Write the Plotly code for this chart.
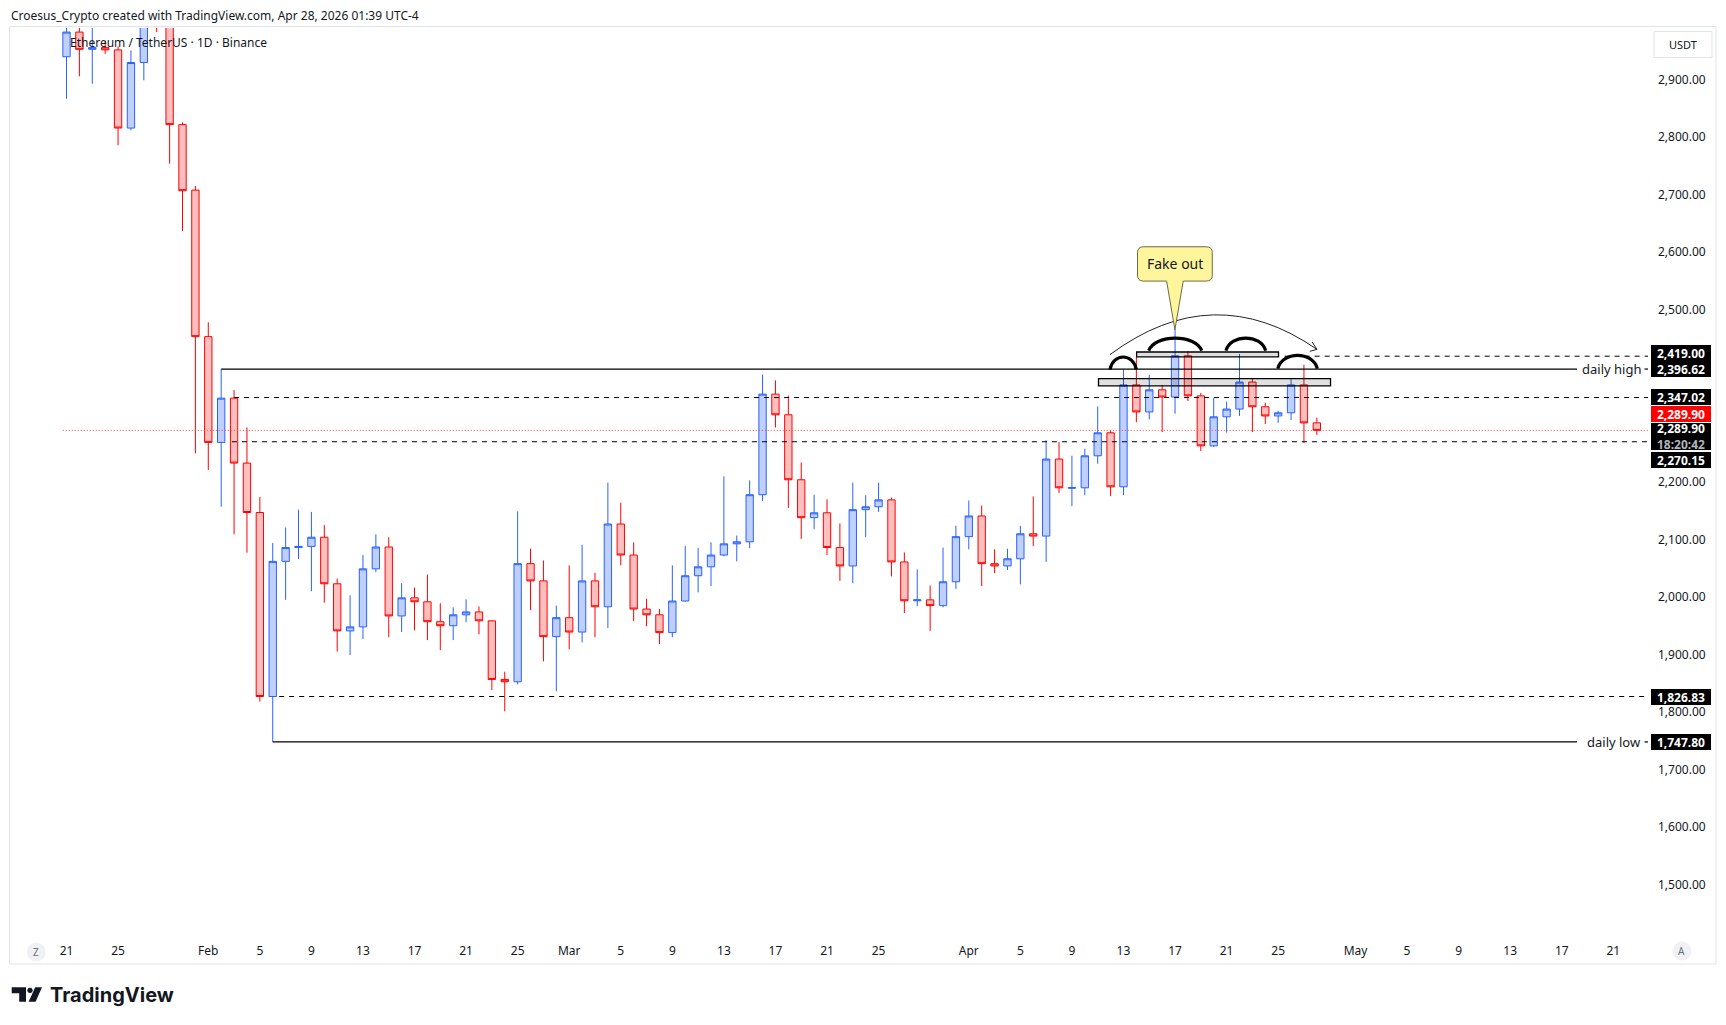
import plotly.graph_objects as go
import pandas as pd

# ---------------- data (ETH/USDT 1D, Binance) ----------------
dates = pd.date_range("2026-01-21", "2026-04-28", freq="D")

opens = [2940, 2983, 2953, 2956, 2952, 2816, 2930, 3010, 3005, 2822,
         2708, 2453, 2269, 2346, 2233, 2147, 1826.83, 2062, 2086, 2088,
         2104, 2023, 1941, 1948, 2049, 2087, 1967, 1998.5, 1991.6, 1957,
         1950, 1969, 1974, 1958.5, 1856.5, 1852.5, 2058, 2028, 1931, 1964,
         1939, 2028, 1983, 2127, 2073, 1979, 1969, 1938, 1993, 2037,
         2052.5, 2073, 2092.5, 2096, 2178, 2353, 2317, 2204, 2138, 2146.5,
         2086, 2054, 2152, 2157, 2169, 2061, 1993.4, 1995, 1985, 2026.5,
         2105, 2141, 2058, 2054, 2066.5, 2110, 2106, 2240, 2189, 2190,
         2245.7, 2285.7, 2191.7, 2369, 2322, 2360.5, 2348, 2419.6, 2350, 2263,
         2313.5, 2327, 2374, 2331, 2315, 2320.5, 2369, 2303]
highs = [3010, 2998, 2995, 2968, 2958, 2951, 3040, 3050, 3015, 2826,
         2715, 2478, 2396.62, 2360, 2295, 2174, 2094, 2121, 2152, 2148,
         2125, 2032, 2003, 2073, 2109, 2104, 2024, 2016.5, 2039, 1989,
         1982, 1996, 1983.5, 1959, 1870, 2149, 2084, 2063.5, 1985, 2055,
         2091, 2042, 2199, 2164, 2095, 1997, 1979, 2055, 2089, 2085.5,
         2095, 2210, 2107, 2203, 2387, 2377, 2350.5, 2234, 2178, 2170,
         2128, 2199, 2177, 2199, 2173, 2077.5, 2048, 2020, 2086, 2124,
         2168, 2159, 2083, 2084, 2124, 2175, 2273, 2270, 2246, 2258,
         2331.5, 2290, 2396, 2418, 2386.5, 2369, 2466.6, 2428, 2355, 2346.5,
         2340, 2423, 2381, 2338, 2324, 2380, 2404, 2312]
lows = [2867, 2906, 2893, 2945, 2786, 2812, 2899, 2983, 2754, 2637,
        2250, 2221, 2157, 2109, 2077, 1818, 1747.80, 1995, 2066, 2010,
        1990, 1905, 1899, 1927, 2043, 1930, 1939, 1942, 1925, 1907.5,
        1925, 1956, 1935, 1838, 1801, 1848, 1977, 1888, 1836, 1909,
        1921, 1930, 1946, 2055, 1958, 1949, 1918, 1930, 1992, 2008,
        2019, 2071, 2062, 2085, 2167, 2295, 2155, 2101, 2118, 2073,
        2028, 2024, 2104, 2148, 2036, 1972, 1984, 1941, 1982, 2014,
        2083, 2019, 2041.5, 2047, 2022, 2088.5, 2061, 2181, 2158, 2177,
        2232, 2175.5, 2177, 2304, 2309, 2287, 2319, 2341, 2254, 2261,
        2286, 2315, 2287, 2301, 2303, 2308, 2268, 2282]
closes = [2983, 2953, 2956, 2952, 2816, 2930, 3010, 3005, 2822, 2707,
          2453, 2269, 2346, 2233, 2147, 1826.83, 2062, 2086, 2088, 2104,
          2023, 1941, 1948, 2049, 2087, 1967, 1998.5, 1991.6, 1957, 1950,
          1969, 1974, 1958.5, 1856.5, 1852.5, 2058, 2028, 1931, 1964, 1939,
          2028, 1983, 2127, 2073, 1979, 1969, 1938, 1993, 2037, 2052.5,
          2073, 2092.5, 2096, 2178, 2353, 2317, 2204, 2138, 2146.5, 2086,
          2054, 2152, 2157, 2169, 2061, 1993.4, 1995, 1985, 2026.5, 2105,
          2141, 2058, 2054, 2066.5, 2110, 2106, 2240, 2190, 2190.5, 2245.7,
          2285.7, 2191.7, 2369, 2322, 2360.5, 2348, 2419.6, 2350, 2263, 2313.5,
          2327, 2374, 2331, 2315, 2320.5, 2369, 2303, 2289.9]

y_tick_values = [1500, 1600, 1700, 1800, 1900, 2000, 2100, 2200,
                 2500, 2600, 2700, 2800, 2900]
x_tick_dates = ["2026-01-21", "2026-01-25", "2026-02-01", "2026-02-05", "2026-02-09",
                "2026-02-13", "2026-02-17", "2026-02-21", "2026-02-25", "2026-03-01",
                "2026-03-05", "2026-03-09", "2026-03-13", "2026-03-17", "2026-03-21",
                "2026-03-25", "2026-04-01", "2026-04-05", "2026-04-09", "2026-04-13",
                "2026-04-17", "2026-04-21", "2026-04-25", "2026-05-01", "2026-05-05",
                "2026-05-09", "2026-05-13", "2026-05-17", "2026-05-21"]
x_tick_labels = ["21", "25", "Feb", "5", "9", "13", "17", "21", "25", "Mar",
                 "5", "9", "13", "17", "21", "25", "Apr", "5", "9", "13",
                 "17", "21", "25", "May", "5", "9", "13", "17", "21"]

# drawn levels
daily_high_start, daily_high = "2026-02-02", 2396.62
daily_low_start, daily_low = "2026-02-06", 1747.80
dashed_levels = [("2026-04-25 12:00", 2419.00), ("2026-02-03 00:00", 2347.02),
                 ("2026-02-02 20:00", 2270.15), ("2026-02-06 12:00", 1826.83)]
last_price = 2289.90
last_price_start = "2026-01-20 17:00"
countdown = "18:20:42"

# annotation drawings (date, price)
domes = [("2026-04-11 22:50", "2026-04-14 00:00", 2395.7, 2417.6),
         ("2026-04-14 23:00", "2026-04-19 01:40", 2428.7, 2450.6),
         ("2026-04-20 22:50", "2026-04-24 00:45", 2428.7, 2450.6),
         ("2026-04-24 23:15", "2026-04-28 01:00", 2397.4, 2420.5)]
zones = [("2026-04-14 00:30", "2026-04-25 00:40", 2417.9, 2426.3),
         ("2026-04-11 01:30", "2026-04-29 01:30", 2367.5, 2380.0)]
arrow_arc = [("2026-04-11 22:50", 2421.7), ("2026-04-19 23:30", 2555.5), ("2026-04-28 00:15", 2430.9)]
arrow_wings = [("2026-04-27 15:10", 2443.6), ("2026-04-27 11:00", 2427.5)]
callout_box = ("2026-04-14 02:10", "2026-04-19 21:20", 2549.7, 2609.4)
callout_tip = ("2026-04-16 23:45", 2465.2)
callout_text = "Fake out"

# ---------------- geometry of the screenshot ----------------
W, H = 1726, 1025
PL, PR, PT, PB = 10, 1648, 27.5, 938
DAY0 = pd.Timestamp("2026-01-21")
PX_DAY0, PX_PER_DAY = 66.5, 12.89
PY_REF, PRICE_REF, PX_PER_PRICE = 79.3, 2900.0, 0.575


def px2date(px):
    return DAY0 + pd.Timedelta(days=(px - PX_DAY0) / PX_PER_DAY)


def py2price(py):
    return PRICE_REF - (py - PY_REF) / PX_PER_PRICE


def pxx(px):
    return (px - PL) / (PR - PL)


def pxy(py):
    return (PB - py) / (PB - PT)


def pt(d, p):
    return f"{pd.Timestamp(d).strftime('%Y-%m-%d_%H:%M:%S')},{p:.3f}"


x_range = [px2date(PL), px2date(PR)]
y_range = [py2price(PB), py2price(PT)]
x_end = x_range[1]

FONT = "Noto Sans"
TXT = "#131722"

fig = go.Figure()
fig.add_trace(go.Candlestick(
    x=dates, open=opens, high=highs, low=lows, close=closes,
    increasing=dict(line=dict(color="#2962FF", width=1), fillcolor="#BFCFFF"),
    decreasing=dict(line=dict(color="#FF0000", width=1), fillcolor="#FFBFBF"),
    whiskerwidth=0, hoverinfo="skip", showlegend=False))

shapes = []
# last price dotted line
shapes.append(dict(type="line", xref="x", yref="y", x0=last_price_start, x1=x_end,
                   y0=last_price, y1=last_price, line=dict(color="#FF4040", width=1, dash="1px,2px")))
# dashed levels
for start, lv in dashed_levels:
    shapes.append(dict(type="line", xref="x", yref="y", x0=start, x1=x_end, y0=lv, y1=lv,
                       line=dict(color="#000000", width=1, dash="5px,5px")))
# daily high / low lines (broken by the text label)
for start, lv in [(daily_high_start, daily_high), (daily_low_start, daily_low)]:
    shapes.append(dict(type="line", xref="x", yref="y", x0=start, x1=px2date(1577), y0=lv, y1=lv,
                       line=dict(color="#000000", width=1.2)))
    shapes.append(dict(type="line", xref="x", yref="y", x0=px2date(1644.5), x1=x_end, y0=lv, y1=lv,
                       line=dict(color="#000000", width=1.2)))
# zones
for a, b, y0, y1 in zones:
    shapes.append(dict(type="rect", xref="x", yref="y", x0=a, x1=b, y0=y0, y1=y1,
                       fillcolor="rgba(0,0,0,0.12)", line=dict(color="#000000", width=1.3)))
# domes
for a, b, base, top in domes:
    ta, tb = pd.Timestamp(a), pd.Timestamp(b)
    w = tb - ta
    ctrl = base + (top - base) / 0.75
    path = f"M{pt(ta, base)} C{pt(ta + 0.12 * w, ctrl)} {pt(tb - 0.12 * w, ctrl)} {pt(tb, base)}"
    shapes.append(dict(type="path", xref="x", yref="y", path=path,
                       line=dict(color="#000000", width=3.2)))
# big arrow arc
(s0, p0), (s1, p1), (s2, p2) = arrow_arc
shapes.append(dict(type="path", xref="x", yref="y",
                   path=f"M{pt(s0, p0)} Q{pt(s1, p1)} {pt(s2, p2)}",
                   line=dict(color="#222222", width=1)))
shapes.append(dict(type="path", xref="x", yref="y",
                   path=f"M{pt(*arrow_wings[0])} L{pt(s2, p2)} L{pt(*arrow_wings[1])}",
                   line=dict(color="#222222", width=1)))
# callout
cl, cr, cb, ct = callout_box
cl, cr = pd.Timestamp(cl), pd.Timestamp(cr)
rx = pd.Timedelta(days=6 / PX_PER_DAY)
ry = 6 / PX_PER_PRICE
tip_d, tip_p = pd.Timestamp(callout_tip[0]), callout_tip[1]
half = pd.Timedelta(days=8.3 / PX_PER_DAY)
cpath = (f"M{pt(cl + rx, ct)} L{pt(cr - rx, ct)} Q{pt(cr, ct)} {pt(cr, ct - ry)} "
         f"L{pt(cr, cb + ry)} Q{pt(cr, cb)} {pt(cr - rx, cb)} "
         f"L{pt(tip_d + half, cb)} L{pt(tip_d, tip_p)} L{pt(tip_d - half, cb)} "
         f"L{pt(cl + rx, cb)} Q{pt(cl, cb)} {pt(cl, cb + ry)} "
         f"L{pt(cl, ct - ry)} Q{pt(cl, ct)} {pt(cl + rx, ct)} Z")
shapes.append(dict(type="path", xref="x", yref="y", path=cpath,
                   fillcolor="#FFF59D", line=dict(color="#6E6A40", width=1)))

# frame
shapes.append(dict(type="rect", xref="paper", yref="paper", x0=pxx(9.5), x1=pxx(1716), y0=pxy(964), y1=pxy(26),
                   line=dict(color="#E0E3EB", width=1), fillcolor="rgba(0,0,0,0)", layer="below"))
# USDT box
shapes.append(dict(type="rect", xref="paper", yref="paper", x0=pxx(1654), x1=pxx(1712), y0=pxy(57), y1=pxy(31),
                   line=dict(color="#E0E3EB", width=1), fillcolor="white"))
# Z / A badges
for cx, cy in [(36.3, 952), (1682, 951)]:
    shapes.append(dict(type="circle", xref="paper", yref="paper", x0=pxx(cx - 9.5), x1=pxx(cx + 9.5),
                       y0=pxy(cy + 9.5), y1=pxy(cy - 9.5), fillcolor="#F0F1F4", line=dict(width=0)))
# TradingView logo glyphs
def ppath(points):
    return "M" + " L".join(f"{pxx(x):.5f},{pxy(y):.5f}" for x, y in points) + " Z"

shapes.append(dict(type="path", xref="paper", yref="paper",
                   path=ppath([(11.7, 987.3), (26, 987.3), (26, 1001.7), (19.2, 1001.7), (19.2, 993.4), (11.7, 993.4)]),
                   fillcolor=TXT, line=dict(width=0)))
shapes.append(dict(type="circle", xref="paper", yref="paper", x0=pxx(27.4), x1=pxx(32.6),
                   y0=pxy(993.0), y1=pxy(987.8), fillcolor=TXT, line=dict(width=0)))
shapes.append(dict(type="path", xref="paper", yref="paper",
                   path=ppath([(35.2, 987.3), (42, 987.3), (35.6, 1001.7), (28.6, 1001.7)]),
                   fillcolor=TXT, line=dict(width=0)))

annotations = []
# header texts
annotations.append(dict(xref="paper", yref="paper", x=pxx(9), y=pxy(14.5), xanchor="left", yanchor="middle",
                        text="Croesus_Crypto created with TradingView.com, Apr 28, 2026 01:39 UTC-4",
                        showarrow=False, font=dict(family=FONT, size=12, color=TXT)))
annotations.append(dict(xref="paper", yref="paper", x=pxx(68), y=pxy(42.3), xanchor="left", yanchor="middle",
                        text="Ethereum / TetherUS · 1D · Binance",
                        showarrow=False, font=dict(family=FONT, size=12, color=TXT)))
annotations.append(dict(xref="paper", yref="paper", x=pxx(1683), y=pxy(44), xanchor="center", yanchor="middle",
                        text="USDT", showarrow=False, font=dict(family=FONT, size=11, color=TXT)))
# line texts
for txt, lv in [("daily high", daily_high), ("daily low", daily_low)]:
    annotations.append(dict(xref="paper", yref="y", x=pxx(1643), y=lv, xanchor="right", yanchor="middle",
                            text=txt, showarrow=False, font=dict(family=FONT, size=13, color=TXT)))
# callout text
annotations.append(dict(xref="x", yref="y", x=callout_tip[0],
                        y=(callout_box[2] + callout_box[3]) / 2, xanchor="center", yanchor="middle",
                        text=callout_text, showarrow=False, font=dict(family=FONT, size=14, color=TXT)))

# price-axis labels (centres in screen pixels, as TradingView stacks them)
def price_box(text, cy, bg, h=14):
    annotations.append(dict(xref="paper", yref="paper", x=pxx(1681), y=pxy(cy), xanchor="center",
                            yanchor="middle", text=text, showarrow=False, bgcolor=bg, borderpad=1,
                            borderwidth=0, width=58, height=h, align="center",
                            font=dict(family=FONT, size=12, color="white")))

price_box(f"<b>{2419.00:,.2f}</b>", 352.3, "#000000")
price_box(f"<b>{daily_high:,.2f}</b>", 368.6, "#000000")
price_box(f"<b>{2347.02:,.2f}</b>", 396.3, "#000000")
price_box(f"<b>{last_price:,.2f}</b>", 413.6, "#FF0000")
price_box(f"<b>{last_price:,.2f}</b><br><b><span style='color:#B2B5BE'>{countdown}</span></b>", 436.5, "#000000", h=25)
price_box(f"<b>{2270.15:,.2f}</b>", 460.0, "#000000")
price_box(f"<b>{1826.83:,.2f}</b>", 696.6, "#000000")
price_box(f"<b>{daily_low:,.2f}</b>", 742.0, "#000000")

# badges letters
for letter, cx, cy in [("Z", 36.3, 952), ("A", 1682, 951)]:
    annotations.append(dict(xref="paper", yref="paper", x=pxx(cx), y=pxy(cy), xanchor="center", yanchor="middle",
                            text=letter, showarrow=False, font=dict(family=FONT, size=10, color="#6A6D78")))
# TradingView wordmark
annotations.append(dict(xref="paper", yref="paper", x=pxx(48), y=pxy(995), xanchor="left", yanchor="middle",
                        text="<b>TradingView</b>", showarrow=False,
                        font=dict(family="Inter", size=20, color=TXT)))

fig.update_layout(
    width=W, height=H,
    margin=dict(l=PL, r=W - PR, t=PT, b=H - PB, pad=0),
    paper_bgcolor="white", plot_bgcolor="white",
    boxgap=0.43, boxgroupgap=0,
    showlegend=False,
    font=dict(family=FONT, color=TXT),
    shapes=shapes, annotations=annotations,
    xaxis=dict(type="date", range=x_range, tickvals=x_tick_dates, ticktext=x_tick_labels,
               showgrid=False, zeroline=False, showline=False, ticks="",
               tickfont=dict(family=FONT, size=12, color=TXT),
               rangeslider=dict(visible=False), automargin=False, fixedrange=True,
               ticklabelstandoff=4),
    yaxis=dict(side="right", range=y_range, tickvals=y_tick_values, tickformat=",.2f",
               showgrid=False, zeroline=False, showline=False, ticks="",
               tickfont=dict(family=FONT, size=12, color=TXT),
               automargin=False, fixedrange=True, ticklabelstandoff=9),
)

fig.write_html("out.html", config={"displayModeBar": False})
